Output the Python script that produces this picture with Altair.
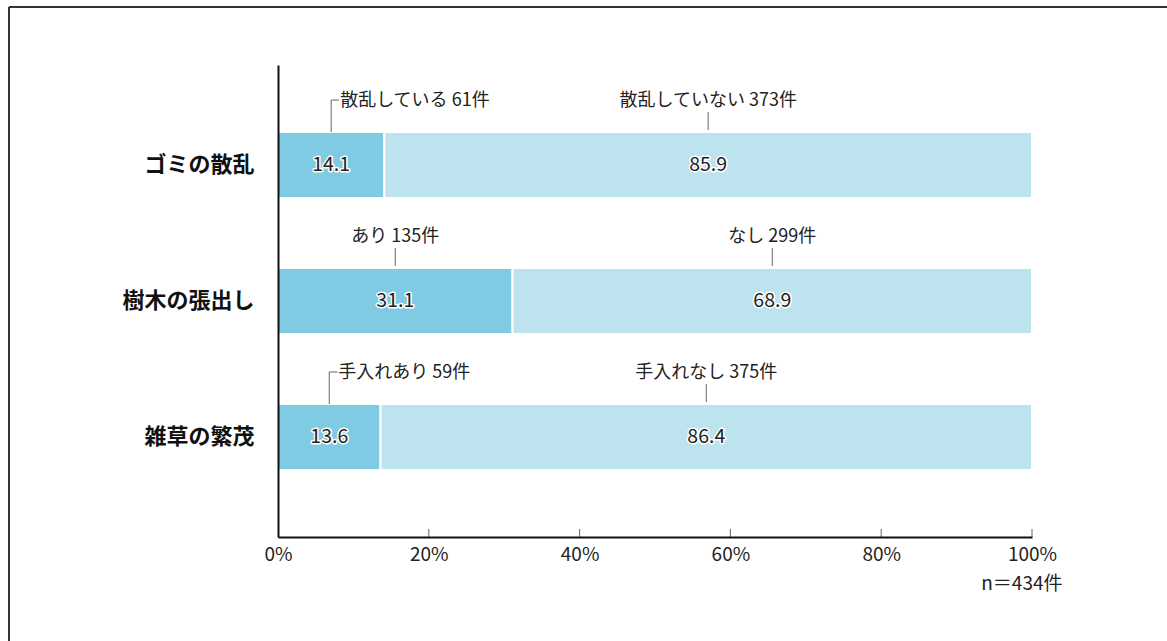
import altair as alt
import pandas as pd

categories = ["ゴミの散乱", "樹木の張出し", "雑草の繁茂"]
pct_yes = [14.1, 31.1, 13.6]
pct_no = [85.9, 68.9, 86.4]
label_yes = ["散乱している 61件", "あり 135件", "手入れあり 59件"]
label_no = ["散乱していない 373件", "なし 299件", "手入れなし 375件"]
x_ticks = [0, 20, 40, 60, 80, 100]
n_note = "n＝434件"

rows = []
for c, y, n, ly, ln in zip(categories, pct_yes, pct_no, label_yes, label_no):
    rows.append(dict(category=c, part="yes", value=y, start=0.0, end=y,
                     center=y / 2, label=ly, bracket=y < 20))
    rows.append(dict(category=c, part="no", value=n, start=y, end=y + n,
                     center=y + n / 2, label=ln, bracket=False))
df = pd.DataFrame(rows)

W, H = 754, 472
FONT = "Noto Sans CJK JP"
TXT = "#222222"

yenc = alt.Y("category:N", sort=categories, title=None,
             scale=alt.Scale(paddingInner=0.515, paddingOuter=0.493),
             axis=alt.Axis(ticks=False, domainColor="#111111", domainWidth=2, zindex=2,
                           labelFontSize=22, labelFontWeight="bold", labelColor="#111111",
                           labelPadding=24, labelFont=FONT))
xenc = alt.X("start:Q", scale=alt.Scale(domain=[0, 100], nice=False),
             axis=alt.Axis(values=x_ticks, labelExpr="datum.value + '%'", ticks=False,
                           grid=False, domainColor="#111111", domainWidth=2, zindex=2,
                           labelFlush=False,
                           labelFontSize=19, labelColor=TXT, labelPadding=8, labelFont=FONT,
                           title=n_note, titleFontSize=19, titleFontWeight="normal",
                           titleColor=TXT, titleFont=FONT, titleAnchor="end", titleAlign="right",
                           titleX=W + 30, titleY=46, titleBaseline="middle"))

base = alt.Chart(df)
ysort = alt.Y("category:N", sort=categories)

bars = base.mark_bar(stroke="white", strokeWidth=2).encode(
    x=xenc, x2="end:Q", y=yenc,
    color=alt.Color("part:N", scale=alt.Scale(domain=["yes", "no"], range=["#7FCBE3", "#BDE3EE"]), legend=None),
)

halo = base.mark_text(fontSize=19.5, font=FONT, stroke="white", strokeWidth=3,
                      strokeJoin="round", color="white").encode(
    x="center:Q", y=ysort, text=alt.Text("value:Q", format=".1f"))
vals = base.mark_text(fontSize=19.5, font=FONT, color=TXT).encode(
    x="center:Q", y=ysort, text=alt.Text("value:Q", format=".1f"))

ann_center = base.transform_filter("!datum.bracket").mark_text(
    fontSize=18, font=FONT, color=TXT, dy=-64, baseline="middle", align="center").encode(
    x="center:Q", y=ysort, text="label:N")
ann_left = base.transform_filter("datum.bracket").mark_text(
    fontSize=18, font=FONT, color=TXT, dy=-64, baseline="middle", align="left", dx=9).encode(
    x="center:Q", y=ysort, text="label:N")

lead_straight = base.transform_filter("!datum.bracket").mark_rule(
    color="#666666", strokeWidth=1, yOffset=-35, y2Offset=-53).encode(
    x="center:Q", y=ysort, y2="category:N")
lead_brk_v = base.transform_filter("datum.bracket").mark_rule(
    color="#666666", strokeWidth=1, yOffset=-33, y2Offset=-65).encode(
    x="center:Q", y=ysort, y2="category:N")
lead_brk_h = base.transform_filter("datum.bracket").mark_rule(
    color="#666666", strokeWidth=1, yOffset=-65, x2Offset=8).encode(
    x="center:Q", x2="center:Q", y=ysort)

tick_df = pd.DataFrame({"tick": x_ticks[1:]})
ticks = alt.Chart(tick_df).mark_rule(color="#666666", strokeWidth=1).encode(
    x="tick:Q", y=alt.value(H - 8), y2=alt.value(H))

frame_df = pd.DataFrame({"k": [0]})
frame_left = alt.Chart(frame_df).mark_rule(color="#333333", strokeWidth=2).encode(
    x=alt.value(-269), y=alt.value(-58), y2=alt.value(H + 200))
frame_top = alt.Chart(frame_df).mark_rule(color="#333333", strokeWidth=2).encode(
    x=alt.value(-269), x2=alt.value(W + 300), y=alt.value(-58))

chart = alt.layer(
    bars, halo, vals, lead_straight, lead_brk_v, lead_brk_h, ann_center, ann_left,
    ticks, frame_left, frame_top
).properties(
    width=W, height=H,
    autosize=alt.AutoSizeParams(type="none"),
    padding={"left": 278, "top": 65, "right": 135, "bottom": 104},
).configure(font=FONT).configure_view(stroke=None, strokeWidth=0)

chart.save("out.html", embed_options={"renderer": "svg", "actions": False})
